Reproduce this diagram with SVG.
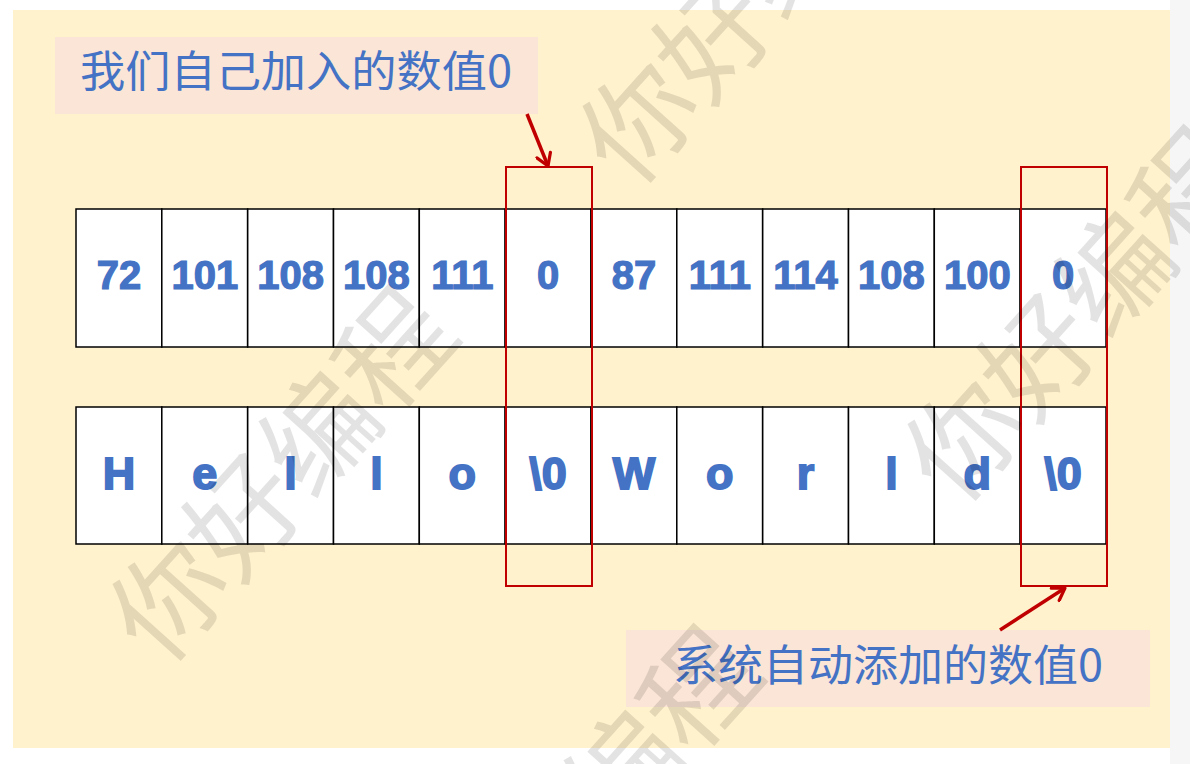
<svg xmlns="http://www.w3.org/2000/svg" width="1190" height="764" viewBox="0 0 1190 764">
<style>
.cell{fill:#fff;stroke:#000;stroke-width:1.5}
.num{font-family:"Liberation Sans",Arial,sans-serif;font-weight:bold;font-size:40px;fill:#4472C4;stroke:#4472C4;stroke-width:1.2;text-anchor:middle}
.ch{font-family:"Liberation Sans",Arial,sans-serif;font-weight:bold;font-size:45px;fill:#4472C4;stroke:#4472C4;stroke-width:1.8;text-anchor:middle}
.hl{fill:none;stroke:#C00000;stroke-width:2}
.lblbox{fill:#FBE5D6}
.lbl{font-family:"Noto Sans CJK SC","Noto Sans",sans-serif;font-size:43px;fill:#4472C4}
.arrow{stroke:#C00000;stroke-width:3.5;fill:none;marker-end:url(#ah)}
.wm{font-family:"Noto Sans CJK SC",sans-serif;font-size:112px;fill:#000;fill-opacity:0.11}
</style>
<defs>
<marker id="ah" viewBox="0 0 12 12" refX="10" refY="6" markerWidth="5" markerHeight="5" orient="auto" markerUnits="strokeWidth">
<path d="M2,1 L10,6 L2,11" fill="none" stroke="#C00000" stroke-width="2.2" stroke-linecap="round" stroke-linejoin="round"/>
</marker>
</defs>
<rect x="0" y="0" width="1190" height="764" fill="#fff"/>
<rect x="1170" y="0" width="20" height="764" fill="#f6f6f6"/>
<rect x="13" y="10" width="1157" height="738" fill="#FFF2CC"/>

<g id="label-top">
<rect class="lblbox" x="55" y="37" width="483" height="77"/>
<text class="lbl" x="80" y="87" textLength="432" lengthAdjust="spacingAndGlyphs">我们自己加入的数值0</text>
</g>
<g id="label-bottom">
<rect class="lblbox" x="626" y="630" width="524" height="77"/>
<text class="lbl" x="673" y="681" textLength="430" lengthAdjust="spacingAndGlyphs">系统自动添加的数值0</text>
</g>

<g id="row-codes">
<rect class="cell" x="76" y="209" width="85.8" height="138"/>
<rect class="cell" x="161.8" y="209" width="85.8" height="138"/>
<rect class="cell" x="247.7" y="209" width="85.8" height="138"/>
<rect class="cell" x="333.5" y="209" width="85.8" height="138"/>
<rect class="cell" x="419.3" y="209" width="85.8" height="138"/>
<rect class="cell" x="505.2" y="209" width="85.8" height="138"/>
<rect class="cell" x="591" y="209" width="85.8" height="138"/>
<rect class="cell" x="676.8" y="209" width="85.8" height="138"/>
<rect class="cell" x="762.7" y="209" width="85.8" height="138"/>
<rect class="cell" x="848.5" y="209" width="85.8" height="138"/>
<rect class="cell" x="934.3" y="209" width="85.8" height="138"/>
<rect class="cell" x="1020.2" y="209" width="85.8" height="138"/>
<text class="num" x="118.9" y="289">72</text>
<text class="num" x="204.8" y="289">101</text>
<text class="num" x="290.6" y="289">108</text>
<text class="num" x="376.4" y="289">108</text>
<text class="num" x="462.3" y="289">111</text>
<text class="num" x="548.1" y="289">0</text>
<text class="num" x="633.9" y="289">87</text>
<text class="num" x="719.8" y="289">111</text>
<text class="num" x="805.6" y="289">114</text>
<text class="num" x="891.4" y="289">108</text>
<text class="num" x="977.3" y="289">100</text>
<text class="num" x="1063.1" y="289">0</text>
</g>

<g id="row-chars">
<rect class="cell" x="76" y="407" width="85.8" height="137"/>
<rect class="cell" x="161.8" y="407" width="85.8" height="137"/>
<rect class="cell" x="247.7" y="407" width="85.8" height="137"/>
<rect class="cell" x="333.5" y="407" width="85.8" height="137"/>
<rect class="cell" x="419.3" y="407" width="85.8" height="137"/>
<rect class="cell" x="505.2" y="407" width="85.8" height="137"/>
<rect class="cell" x="591" y="407" width="85.8" height="137"/>
<rect class="cell" x="676.8" y="407" width="85.8" height="137"/>
<rect class="cell" x="762.7" y="407" width="85.8" height="137"/>
<rect class="cell" x="848.5" y="407" width="85.8" height="137"/>
<rect class="cell" x="934.3" y="407" width="85.8" height="137"/>
<rect class="cell" x="1020.2" y="407" width="85.8" height="137"/>
<text class="ch" x="118.9" y="489">H</text>
<text class="ch" x="204.8" y="489">e</text>
<text class="ch" x="290.6" y="489">l</text>
<text class="ch" x="376.4" y="489">l</text>
<text class="ch" x="462.3" y="489">o</text>
<text class="ch" x="548.1" y="489">\0</text>
<text class="ch" x="633.9" y="489">W</text>
<text class="ch" x="719.8" y="489">o</text>
<text class="ch" x="805.6" y="489">r</text>
<text class="ch" x="891.4" y="489">l</text>
<text class="ch" x="977.3" y="489">d</text>
<text class="ch" x="1063.1" y="489">\0</text>
</g>

<g id="highlight-user-zero">
<rect class="hl" x="506" y="167" width="86" height="419"/>
</g>
<g id="highlight-auto-zero">
<rect class="hl" x="1021" y="167" width="86" height="419"/>
</g>

<g id="connectors">
<line class="arrow" x1="527" y1="114" x2="548" y2="166"/>
<line class="arrow" x1="1000" y1="630" x2="1065" y2="588"/>
</g>

<g id="watermark">
<text class="wm" transform="translate(170,600) rotate(-48)" x="-56" y="40">你好编程</text>
<text class="wm" transform="translate(640,122) rotate(-48)" x="-56" y="40">你好编程</text>
<text class="wm" transform="translate(965,440) rotate(-48)" x="-56" y="40">你好编程</text>
<text class="wm" transform="translate(475,939) rotate(-48)" x="-56" y="40">你好编程</text>
</g>
</svg>
